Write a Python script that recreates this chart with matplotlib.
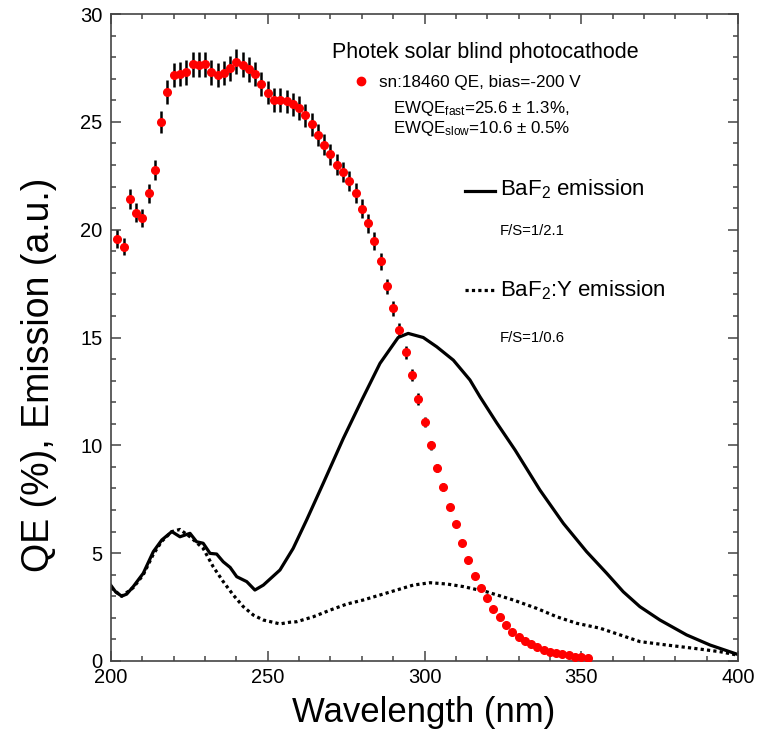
import numpy as np
import matplotlib
matplotlib.use("Agg")
import matplotlib.pyplot as plt
from matplotlib.lines import Line2D
from matplotlib.ticker import MultipleLocator

plt.rcParams['font.family'] = ['Liberation Sans', 'DejaVu Sans']
plt.rcParams['mathtext.fontset'] = 'custom'
plt.rcParams['mathtext.rm'] = 'Liberation Sans'
plt.rcParams['mathtext.it'] = 'Liberation Sans:italic'

# --- QE data (sn:18460) ---
qe_wl = list(range(202, 354, 2))
qe_val = [19.56, 19.21, 21.42, 20.79, 20.54, 21.68, 22.76, 24.99, 26.38, 27.17,
          27.21, 27.29, 27.68, 27.65, 27.67, 27.29, 27.18, 27.27, 27.48, 27.79,
          27.65, 27.43, 27.21, 26.74, 26.36, 26.01, 26.01, 25.95, 25.81, 25.64,
          25.31, 24.88, 24.40, 23.94, 23.49, 23.01, 22.68, 22.27, 21.70, 20.97,
          20.29, 19.49, 18.54, 17.37, 16.35, 15.35, 14.31, 13.26, 12.15, 11.10,
          10.01, 8.96, 8.07, 7.15, 6.35, 5.49, 4.67, 3.94, 3.37, 2.91,
          2.43, 2.05, 1.65, 1.34, 1.13, 0.94, 0.79, 0.63, 0.51, 0.43,
          0.37, 0.31, 0.26, 0.20, 0.17, 0.15]
qe_err = [0.41, 0.40, 0.45, 0.44, 0.43, 0.46, 0.48, 0.52, 0.55, 0.57,
          0.57, 0.57, 0.58, 0.58, 0.58, 0.57, 0.57, 0.57, 0.58, 0.58,
          0.58, 0.58, 0.57, 0.56, 0.55, 0.55, 0.55, 0.54, 0.54, 0.54,
          0.53, 0.52, 0.51, 0.50, 0.49, 0.48, 0.48, 0.47, 0.46, 0.44,
          0.43, 0.41, 0.39, 0.36, 0.34, 0.32, 0.30, 0.28, 0.26, 0.23,
          0.21, 0.19, 0.17, 0.15, 0.13, 0.12, 0.10, 0.08, 0.07, 0.06,
          0.05, 0.04, 0.03, 0.03, 0.02, 0.02, 0.02, 0.01, 0.01, 0.01,
          0.01, 0.01, 0.01, 0.00, 0.00, 0.00]

# --- BaF2 emission (solid) ---
baf2_wl = [200, 201.5, 203.4, 205, 207.1, 210.3, 213.5, 216.2, 219.4, 222,
           225.2, 227.3, 229.4, 231.6, 233.7, 235.8, 238, 240.1, 243.3, 245.9,
           248.6, 253.9, 258.1, 262.4, 267.7, 274.1, 280, 285.8, 291.6, 294.8,
           299.6, 303.9, 309.2, 314.5, 317.7, 323, 328.9, 336.8, 344.3, 351.7,
           358.1, 363.4, 368.7, 375.1, 383.6, 391.1, 399.6]
baf2_em = [3.5, 3.2, 3.01, 3.1, 3.45, 4.07, 5.07, 5.61, 6.0, 5.76,
           5.92, 5.53, 5.46, 4.99, 4.96, 4.60, 4.34, 3.91, 3.68, 3.29,
           3.52, 4.22, 5.22, 6.54, 8.24, 10.32, 12.10, 13.80, 15.0, 15.19,
           15.0, 14.57, 13.95, 13.03, 12.25, 11.05, 9.78, 7.93, 6.38, 5.07,
           4.07, 3.21, 2.52, 1.90, 1.21, 0.74, 0.32]

# --- BaF2:Y emission (dotted) ---
bafy_wl = [200, 203.4, 207.1, 210.3, 213.5, 216.2, 219.4, 222, 225.2, 229.4,
           232.6, 235.8, 239, 242.2, 245.4, 248.6, 253.9, 257.1, 259.2, 264.5,
           269.9, 275.2, 280.5, 285.8, 291.1, 296.4, 301.8, 307.1, 312.4, 319.8,
           328.3, 335.8, 342.2, 348.5, 356, 362.4, 368.7, 377.3, 385.8, 394.3,
           399.6]
bafy_em = [3.4, 3.0, 3.4, 4.0, 4.95, 5.55, 6.0, 6.1, 5.76, 5.22,
           4.37, 3.68, 3.06, 2.52, 2.13, 1.90, 1.72, 1.80, 1.82, 2.05,
           2.36, 2.64, 2.83, 3.06, 3.29, 3.52, 3.63, 3.57, 3.45, 3.21,
           2.83, 2.44, 2.05, 1.75, 1.52, 1.21, 0.90, 0.74, 0.59, 0.43,
           0.28]

W, H = 759, 729
fig = plt.figure(figsize=(W / 100, H / 100), dpi=100)
ax = fig.add_axes([111 / W, 1 - 661 / H, (738 - 111) / W, (661 - 14) / H])


def fx(px):
    return px / W


def fy(py):
    return 1 - py / H


ax.plot(baf2_wl, baf2_em, color='black', lw=2.3, zorder=2)
ax.plot(bafy_wl, bafy_em, color='black', lw=2.3, ls=(0, (1, 1)), zorder=2)
ax.errorbar(qe_wl, qe_val, yerr=qe_err, fmt='o', color='red', ms=5.5,
            mec='red', ecolor='black', elinewidth=1.8, capsize=0, zorder=3)

ax.set_xlim(200, 400)
ax.set_ylim(0, 30)
ax.xaxis.set_major_locator(MultipleLocator(50))
ax.xaxis.set_minor_locator(MultipleLocator(10))
ax.yaxis.set_major_locator(MultipleLocator(5))
ax.yaxis.set_minor_locator(MultipleLocator(1))
ax.tick_params(which='both', direction='in', top=True, right=True,
               labelsize=14.5, color='#444444', width=1.1)
ax.tick_params(which='major', length=7)
ax.tick_params(which='minor', length=3.6)
ax.tick_params(axis='x', pad=5)
ax.tick_params(axis='y', pad=6)
for s in ax.spines.values():
    s.set_color('#444444')
    s.set_linewidth(1.2)

# axis titles
fig.text(fx(424), fy(722), 'Wavelength (nm)', fontsize=25, ha='center', va='baseline')
fig.text(fx(49), fy(375), 'QE (%), Emission (a.u.)', fontsize=27, rotation=90,
         rotation_mode='anchor', ha='center', va='baseline')

# legend block
fig.text(fx(332), fy(58), 'Photek solar blind photocathode', fontsize=15.5, va='baseline')
fig.add_artist(Line2D([fx(361)], [fy(81)], marker='o', color='red', ms=6, ls='none'))
fig.text(fx(379), fy(86.7), 'sn:18460 QE, bias=-200 V', fontsize=12.3, va='baseline')
fig.text(fx(393), fy(113.3), r'EWQE$\mathregular{_{fast}}$=25.6 ± 1.3%,', fontsize=12.2, va='baseline')
fig.text(fx(393), fy(133.3), r'EWQE$\mathregular{_{slow}}$=10.6 ± 0.5%', fontsize=12.2, va='baseline')

fig.add_artist(Line2D([fx(465), fx(495)], [fy(191), fy(191)], color='black', lw=2.3))
fig.text(fx(500), fy(195), r'BaF$\mathregular{_2}$ emission', fontsize=16, va='baseline')
fig.text(fx(500), fy(235), 'F/S=1/2.1', fontsize=10.7, va='baseline')

fig.add_artist(Line2D([fx(465), fx(495)], [fy(290), fy(290)], color='black', lw=2.3,
                      ls=(0, (1, 1))))
fig.text(fx(500), fy(296.7), r'BaF$\mathregular{_2}$:Y emission', fontsize=16, va='baseline')
fig.text(fx(500), fy(341.7), 'F/S=1/0.6', fontsize=10.7, va='baseline')

fig.savefig('out.png', dpi=100)
